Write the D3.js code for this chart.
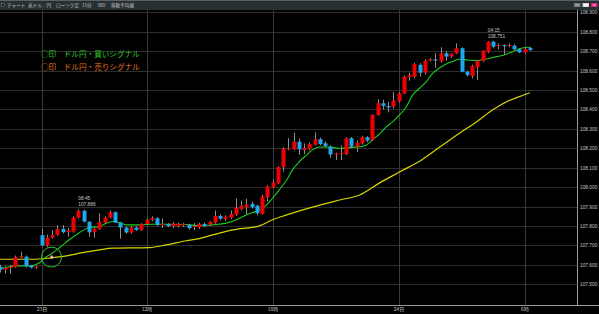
<!DOCTYPE html>
<html lang="ja">
<head>
<meta charset="utf-8">
<title>米ドル／円 15分足</title>
<script src="https://cdn.jsdelivr.net/npm/d3@7"></script>
<style>
  body { margin: 0; background: #000; }
  svg { display: block; }
</style>
</head>
<body>
<svg id="chart" width="599" height="314"></svg>
<script>

// 15 min candles, oldest first
var open = [107.590,107.575,107.585,107.588,107.640,107.642,107.595,107.585,107.753,107.700,
107.740,107.755,107.785,107.769,107.772,107.843,107.878,107.822,107.768,107.785,
107.818,107.843,107.871,107.818,107.792,107.767,107.792,107.780,107.810,107.832,
107.840,107.806,107.810,107.800,107.800,107.805,107.806,107.795,107.794,107.811,
107.808,107.818,107.852,107.836,107.842,107.859,107.887,107.897,107.914,107.904,
107.862,107.948,108.000,108.020,108.103,108.198,108.195,108.234,108.190,108.198,
108.219,108.247,108.226,108.209,108.168,108.172,108.171,108.252,108.209,108.226,
108.257,108.243,108.372,108.432,108.418,108.414,108.442,108.483,108.566,108.569,
108.630,108.589,108.651,108.658,108.648,108.689,108.672,108.689,108.715,108.594,
108.572,108.617,108.650,108.697,108.749,108.727,108.731,108.727,108.728,108.710,
108.694,108.716]

var high = [107.600,107.592,107.600,107.648,107.668,107.648,107.600,107.595,107.785,107.755,
107.778,107.805,107.805,107.790,107.850,107.886,107.884,107.826,107.790,107.866,
107.850,107.880,107.875,107.822,107.797,107.800,107.798,107.815,107.838,107.850,
107.845,107.838,107.815,107.820,107.818,107.815,107.812,107.815,107.818,107.818,
107.825,107.880,107.860,107.855,107.880,107.941,107.930,107.940,107.925,107.910,
107.960,108.010,108.040,108.108,108.205,108.252,108.280,108.250,108.225,108.230,
108.282,108.255,108.235,108.215,108.178,108.215,108.256,108.258,108.240,108.265,
108.262,108.375,108.452,108.450,108.440,108.490,108.490,108.575,108.590,108.640,
108.638,108.660,108.666,108.690,108.720,108.700,108.690,108.740,108.720,108.600,
108.630,108.655,108.705,108.751,108.751,108.740,108.735,108.740,108.735,108.716,
108.720,108.722]

var low = [107.560,107.555,107.555,107.585,107.634,107.586,107.582,107.580,107.695,107.692,
107.735,107.750,107.762,107.745,107.765,107.838,107.818,107.745,107.740,107.780,
107.810,107.838,107.815,107.735,107.760,107.760,107.775,107.775,107.805,107.825,
107.800,107.790,107.795,107.790,107.792,107.795,107.782,107.780,107.785,107.795,
107.800,107.812,107.830,107.825,107.835,107.852,107.880,107.860,107.890,107.855,
107.858,107.925,107.995,108.015,108.080,108.190,108.190,108.166,108.170,108.190,
108.215,108.215,108.205,108.150,108.140,108.140,108.165,108.200,108.180,108.220,
108.232,108.238,108.368,108.400,108.385,108.405,108.435,108.478,108.548,108.562,
108.570,108.580,108.648,108.615,108.640,108.650,108.665,108.685,108.590,108.570,
108.560,108.552,108.645,108.690,108.715,108.710,108.680,108.720,108.705,108.690,
108.688,108.700]

var close = [107.575,107.585,107.590,107.640,107.645,107.593,107.586,107.591,107.700,107.740,
107.753,107.785,107.768,107.777,107.843,107.878,107.823,107.768,107.785,107.820,
107.843,107.871,107.818,107.792,107.767,107.792,107.780,107.810,107.832,107.840,
107.806,107.810,107.800,107.812,107.811,107.810,107.789,107.800,107.811,107.800,
107.821,107.852,107.838,107.848,107.862,107.893,107.904,107.910,107.897,107.866,
107.951,108.003,108.024,108.103,108.198,108.200,108.234,108.195,108.200,108.222,
108.247,108.222,108.212,108.168,108.174,108.175,108.252,108.209,108.229,108.257,
108.240,108.372,108.432,108.418,108.411,108.445,108.483,108.569,108.576,108.634,
108.589,108.651,108.658,108.652,108.689,108.672,108.686,108.715,108.594,108.577,
108.623,108.650,108.702,108.749,108.723,108.731,108.727,108.731,108.710,108.694,
108.711,108.706]

// moving averages: [candle index, price]
var greenMA = [[0,107.580],[1.9,107.590],[3.8,107.595],[5.7,107.595],[7.6,107.610],[8.6,107.636],
[9.9,107.657],[11.4,107.688],[13.3,107.729],[15.2,107.765],[16.8,107.790],[19.0,107.798],
[21.5,107.823],[22.9,107.816],[24.2,107.806],[26.7,107.806],[29.1,107.809],[31.8,107.809],
[35.6,107.808],[38.1,107.801],[40.6,107.806],[43.2,107.815],[45.1,107.832],[47.0,107.857],
[48.2,107.869],[49.5,107.883],[50.9,107.909],[52.0,107.943],[53.3,107.986],[54.7,108.037],
[55.8,108.089],[57.1,108.131],[58.5,108.166],[59.6,108.192],[61.0,108.207],[62.3,108.207],
[63.4,108.205],[64.8,108.199],[66.1,108.202],[68.0,108.207],[69.1,108.210],[69.9,108.217],
[71.0,108.243],[72.4,108.274],[73.7,108.312],[74.9,108.337],[76.2,108.372],[77.5,108.414],
[78.7,108.475],[80.0,108.509],[81.3,108.543],[82.5,108.586],[83.8,108.613],[85.1,108.634],
[86.3,108.647],[87.6,108.658],[89.0,108.655],[90.9,108.651],[92.8,108.660],[94.7,108.672],
[95.8,108.678],[97.1,108.691],[98.5,108.706],[99.6,108.716],[100.6,108.720],[101.1,108.715]]

var yellowMA = [[0,107.629],[6.3,107.629],[9.5,107.635],[12.8,107.646],[15.8,107.663],[19.0,107.677],
[21.5,107.686],[28.6,107.689],[31.8,107.703],[35.6,107.724],[38.1,107.735],[40.6,107.754],
[44.4,107.780],[49.5,107.801],[52.0,107.832],[54.7,107.857],[59.6,107.897],[64.8,107.934],
[68.6,107.960],[72.4,108.022],[76.2,108.078],[80.4,108.140],[84.4,108.217],[87.6,108.278],
[90.9,108.337],[93.9,108.397],[96.6,108.440],[99.0,108.466],[101.0,108.486]]

var yTicks = [107.5,107.6,107.7,107.8,107.9,108.0,108.1,108.2,108.3,108.4,108.5,108.6,108.7,108.8,108.9]
var xTickIdx = [8, 28, 52, 76, 100]
var xTickLabels = ["23日", "12時", "18時", "24日", "6時"]

var highNotes = [{i: 15, time: "08:45", price: "107.886"}, {i: 93, time: "04:15", price: "108.751"}]
var buySignal = {i: 9.9, price: 107.640}

var headerItems = ["チャート", "米ドル／円", "ローソク足", "15分", "BID", "移動平均線"]
var legendItems = [{text: "○印　ドル円・買いシグナル", color: "#2fc42f"},
                   {text: "○印　ドル円・売りシグナル", color: "#e0731f"}]

var candles = open.map((o, i) => ({i: i, o: o, h: high[i], l: low[i], c: close[i]}))

var svg = d3.select("#chart"),
    W = +svg.attr("width"),
    H = +svg.attr("height"),
    plotRight = 577,
    plotTop = 10,
    plotBottom = 305;

svg.append("rect").attr("width", W).attr("height", H).attr("fill", "#000")

var x = d3.scaleLinear().domain([0, 100]).range([-0.5, 524.5])
var y = d3.scaleLinear().domain([107.5, 108.9]).range([284.3, 12.3])

var crisp = v => Math.round(v) + 0.5

// grid
svg.append("g").selectAll("line")
  .data(yTicks)
  .enter().append("line")
    .attr("x1", 0).attr("x2", plotRight)
    .attr("y1", d => crisp(y(d))).attr("y2", d => crisp(y(d)))
    .attr("stroke", "#2e2e2e")

svg.append("g").selectAll("line")
  .data(xTickIdx)
  .enter().append("line")
    .attr("x1", d => crisp(x(d))).attr("x2", d => crisp(x(d)))
    .attr("y1", plotTop).attr("y2", plotBottom)
    .attr("stroke", "#3a3a3a")

// axes
var yAxis = svg.append("g")
  .attr("transform", `translate(${plotRight + 2},0)`)
  .call(d3.axisRight(y).tickValues(yTicks).tickSize(0).tickPadding(1).tickFormat(d3.format(".3f")))
yAxis.select(".domain").remove()
yAxis.selectAll("text")
  .attr("fill", "#c8c8c8")
  .attr("font-family", "Liberation Sans, Arial, sans-serif")
  .attr("font-size", "4.8px")

var xAxis = svg.append("g")
  .attr("transform", `translate(0,${plotBottom})`)
  .call(d3.axisBottom(x).tickValues(xTickIdx).tickSize(0).tickPadding(2).tickFormat((d, i) => xTickLabels[i]))
xAxis.select(".domain").remove()
xAxis.selectAll("text")
  .attr("fill", "#c8c8c8")
  .attr("font-family", "Noto Sans CJK JP, sans-serif")
  .attr("font-size", "5px")

svg.append("line")
  .attr("x1", 0).attr("x2", W)
  .attr("y1", plotBottom + 0.5).attr("y2", plotBottom + 0.5)
  .attr("stroke", "#9a9a9a")
svg.append("line")
  .attr("x1", plotRight + 0.5).attr("x2", plotRight + 0.5)
  .attr("y1", plotTop).attr("y2", plotBottom)
  .attr("stroke", "#9a9a9a")

// moving averages
var line = d3.line()
  .x(d => x(d[0]))
  .y(d => y(d[1]))
  .curve(d3.curveMonotoneX)

svg.append("path")
  .datum(yellowMA)
  .attr("d", line)
  .attr("fill", "none")
  .attr("stroke", "#d6d600")
  .attr("stroke-width", 1.2)

svg.append("path")
  .datum(greenMA)
  .attr("d", line)
  .attr("fill", "none")
  .attr("stroke", "#1ccc1c")
  .attr("stroke-width", 1.1)

// candles
var g = svg.append("g").selectAll("g")
  .data(candles)
  .enter().append("g")

g.append("line")
  .attr("x1", d => crisp(x(d.i))).attr("x2", d => crisp(x(d.i)))
  .attr("y1", d => y(d.h)).attr("y2", d => y(d.l))
  .attr("stroke", "#8e8e8e")

g.append("rect")
  .attr("x", d => Math.round(x(d.i)) - 1.5)
  .attr("width", 4)
  .attr("y", d => y(Math.max(d.o, d.c)))
  .attr("height", d => Math.max(1, Math.abs(y(d.o) - y(d.c))))
  .attr("fill", d => d.c >= d.o ? "#ee0000" : "#1ea6ee")

// high annotations
var notes = svg.append("g").selectAll("g")
  .data(highNotes)
  .enter().append("g")
  .attr("font-family", "Liberation Sans, Arial, sans-serif")
  .attr("font-size", "4.8px")
  .attr("fill", "#c8c8c8")
notes.append("text")
  .attr("x", d => x(d.i))
  .attr("y", d => y(high[d.i]) - 9)
  .text(d => d.time)
notes.append("text")
  .attr("x", d => x(d.i))
  .attr("y", d => y(high[d.i]) - 3)
  .text(d => d.price)

// buy signal marker
svg.append("circle")
  .attr("cx", x(buySignal.i))
  .attr("cy", y(buySignal.price))
  .attr("r", 10)
  .attr("fill", "none")
  .attr("stroke", "#2fc42f")
  .attr("stroke-width", 1)
svg.append("rect")
  .attr("x", x(buySignal.i) - 1)
  .attr("y", y(buySignal.price) - 1.5)
  .attr("width", 2.5)
  .attr("height", 3)
  .attr("fill", "#f0b0c0")

// legend
svg.append("g").selectAll("text")
  .data(legendItems)
  .enter().append("text")
    .attr("x", 41)
    .attr("y", (d, i) => 57 + i * 13)
    .attr("font-family", "Noto Sans CJK JP, sans-serif")
    .attr("font-size", "7.6px")
    .attr("fill", d => d.color)
    .text(d => d.text)

// title bar
svg.append("rect").attr("width", W).attr("height", plotTop).attr("fill", "#283033")
svg.append("line").attr("x1", 0).attr("x2", W).attr("y1", 0.5).attr("y2", 0.5).attr("stroke", "#5a6265")
svg.append("rect").attr("x", 1.5).attr("y", 3.5).attr("width", 3).attr("height", 3)
  .attr("fill", "#1a1a1a").attr("stroke", "#777").attr("stroke-width", 0.6)

var hx = [7, 28, 56, 82, 98, 111]
svg.append("g").selectAll("text")
  .data(headerItems)
  .enter().append("text")
    .attr("x", (d, i) => hx[i])
    .attr("y", 7.3)
    .attr("font-family", "Noto Sans CJK JP, sans-serif")
    .attr("font-size", "4.6px")
    .attr("fill", "#c4c4c4")
    .text(d => d)

var btn = [{x: 574, fill: "#7a7a7a"}, {x: 582.5, fill: "#d8d8d8"}, {x: 591, fill: "#e0187e"}]
svg.append("g").selectAll("rect")
  .data(btn)
  .enter().append("rect")
    .attr("x", d => d.x).attr("y", 3)
    .attr("width", 6.5).attr("height", 4)
    .attr("fill", d => d.fill)
svg.append("line").attr("x1", 575.5).attr("x2", 579).attr("y1", 5).attr("y2", 5).attr("stroke", "#ddd").attr("stroke-width", 0.6)
svg.append("rect").attr("x", 584).attr("y", 4).attr("width", 3.5).attr("height", 2).attr("fill", "#fff")
svg.append("path").attr("d", "M592.8,4 L595.7,6 M595.7,4 L592.8,6").attr("stroke", "#fff").attr("stroke-width", 0.6)

</script>
</body>
</html>
